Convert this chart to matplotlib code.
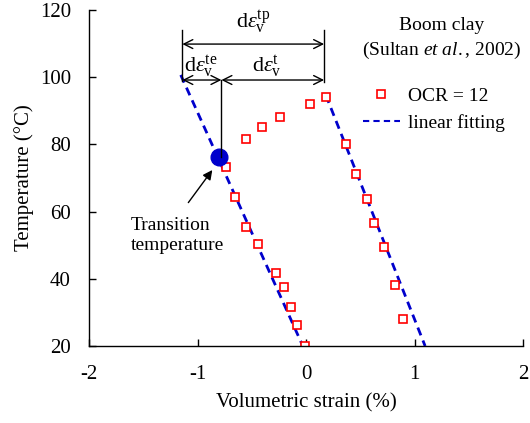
import numpy as np
import matplotlib.pyplot as plt
from matplotlib.lines import Line2D

plt.rcParams['font.family'] = 'Liberation Serif'
plt.rcParams['mathtext.fontset'] = 'custom'
plt.rcParams['mathtext.rm'] = 'Liberation Serif'
plt.rcParams['mathtext.it'] = 'Liberation Serif:italic'
plt.rcParams['axes.unicode_minus'] = False

# measured points, OCR = 12 (Sultan et al., 2002)
strain = [-0.74, -0.654, -0.556, -0.445, -0.279, -0.20, -0.138, -0.083, -0.01,
          -0.556, -0.403, -0.242, 0.034, 0.182,
          0.366, 0.458, 0.565, 0.627, 0.719, 0.818, 0.894]
temp = [73.2, 64.3, 55.3, 50.4, 41.6, 37.5, 31.7, 26.3, 20.0,
        81.7, 85.1, 88.1, 92.0, 94.2,
        80.0, 71.1, 63.75, 56.5, 49.4, 38.2, 27.9]

# linear fittings
fit1_x = [-1.155, -0.03]
fit1_T = [100.7, 20.0]
fit2_x = [0.182, 1.097]
fit2_T = [94.7, 20.0]

# transition temperature point
trans_x = [-0.80]
trans_T = [76.2]

blue = '#0000CC'

fig = plt.figure(figsize=(5.3, 4.23), dpi=100)
ax = fig.add_axes([0.168, 0.182, 0.819, 0.794])

ax.plot(fit1_x, fit1_T, color=blue, lw=2, dashes=(3, 2))
ax.plot(fit2_x, fit2_T, color=blue, lw=2, dashes=(3, 2))
ax.plot(strain, temp, 's', ms=6, mfc='white', mec='red', mew=1.2, ls='none')
ax.plot(trans_x, trans_T, 'o', ms=12, color=blue)

# dimension lines
xl, xm, xr = -1.14, -0.78, 0.166
ax.plot([xl, xl], [99.0, 114.0], color='k', lw=1)
ax.plot([xr, xr], [98.7, 114.0], color='k', lw=1)
ax.plot([xm, xm], [99.2, trans_T[0]], color='k', lw=1)
arw = dict(arrowstyle='<->', color='k', lw=1, shrinkA=0, shrinkB=0, mutation_scale=16)
ax.annotate('', xy=(xl, 109.9), xytext=(xr, 109.9), arrowprops=arw)
ax.annotate('', xy=(xl, 99.2), xytext=(xm, 99.2), arrowprops=arw)
ax.annotate('', xy=(xm, 99.2), xytext=(xr, 99.2), arrowprops=arw)
ax.text(-0.488, 116.4, r'd$\varepsilon_{\rm v}^{\rm tp}$', ha='center', va='center', fontsize=16, clip_on=False)
ax.text(-0.97, 103.3, r'd$\varepsilon_{\rm v}^{\rm te}$', ha='center', va='center', fontsize=16)
ax.text(-0.36, 103.3, r'd$\varepsilon_{\rm v}^{\rm t}$', ha='center', va='center', fontsize=16)

# transition annotation
ax.annotate('', xy=(-0.864, 72.4), xytext=(-1.085, 62.7),
            arrowprops=dict(arrowstyle='-|>', color='k', lw=1, shrinkA=0, shrinkB=0, mutation_scale=14))
ax.text(-1.613, 53.0, 'Transition\ntemperature', ha='left', va='center', fontsize=14, linespacing=1.25)

ax.text(1.253, 115.5, 'Boom clay', ha='center', va='center', fontsize=14)
ax.text(1.253, 108.1, r'(Sultan $\it{et\ al.}$, 2002)', ha='center', va='center', fontsize=14)

handles = [Line2D([], [], marker='s', ms=6, mfc='white', mec='red', mew=1.2, ls='none'),
           Line2D([], [], color=blue, lw=1.5, dashes=(3, 2))]
ax.legend(handles, ['OCR = 12', 'linear fitting'], loc='upper left', bbox_to_anchor=(0.631, 0.770),
          frameon=False, fontsize=14, handlelength=1.9, handletextpad=0.4, labelspacing=0.45,
          borderaxespad=0, borderpad=0)

ax.set_xlim(-2, 2)
ax.set_ylim(20, 120)
ax.set_xticks([-2, -1, 0, 1, 2])
ax.set_yticks([20, 40, 60, 80, 100, 120])
ax.spines['top'].set_visible(False)
ax.spines['right'].set_visible(False)
for s in ['left', 'bottom']:
    ax.spines[s].set_linewidth(1)
ax.tick_params(direction='in', length=5, width=1, labelsize=15)
ax.tick_params(axis='x', pad=14)
ax.tick_params(axis='y', pad=13)
ax.set_xlabel('Volumetric strain (%)', fontsize=15, labelpad=6)
ax.set_ylabel('Temperature (°C)', fontsize=15, labelpad=4)

fig.savefig('out.png', dpi=100)
